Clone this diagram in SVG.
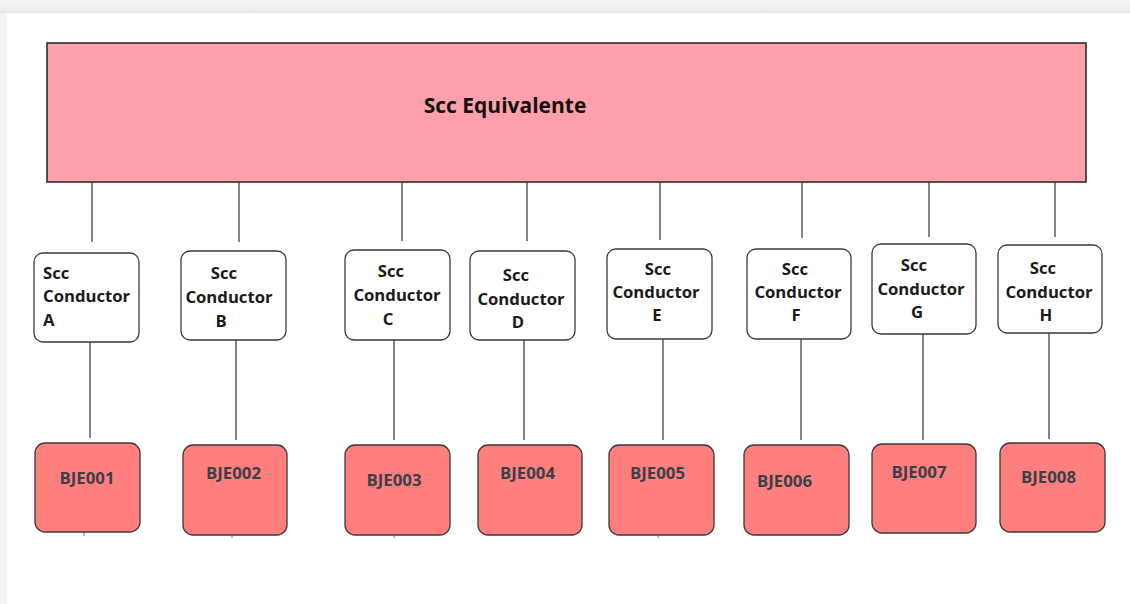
<svg xmlns="http://www.w3.org/2000/svg" width="1130" height="604" viewBox="0 0 1130 604">
  <defs>
    <linearGradient id="edgeTop" x1="0" y1="0" x2="0" y2="1">
      <stop offset="0" stop-color="#f4f4f4"/>
      <stop offset="0.8" stop-color="#eeeeee"/>
      <stop offset="1" stop-color="#e4e4e4"/>
    </linearGradient>
    <linearGradient id="edgeLeft" x1="0" y1="0" x2="1" y2="0">
      <stop offset="0" stop-color="#f4f4f4"/>
      <stop offset="1" stop-color="#ececec"/>
    </linearGradient>
  </defs>
  <style>
    .main { fill: #ffa0ac; stroke: #2e2e2e; stroke-width: 1.6; }
    .cond { fill: #ffffff; stroke: #3a3a3a; stroke-width: 1.3; }
    .bje  { fill: #ff7f7f; stroke: #3a3a3a; stroke-width: 1.3; }
    .wire { stroke: #444444; stroke-width: 1.3; fill: none; }
    .tick { stroke: #777777; stroke-width: 1; fill: none; }
    text { font-family: "Open Sans", "Liberation Sans", sans-serif; font-weight: 700; }
    .title { font-size: 21px; fill: #111111; }
    .lbl { font-size: 16.7px; fill: #1a1a1a; }
    .code { font-size: 16.8px; fill: #3c3f48; }
    .mid { text-anchor: middle; }
  </style>

  <!-- page frame -->
  <rect x="0" y="0" width="1130" height="604" fill="url(#edgeLeft)"/>
  <rect x="0" y="0" width="1130" height="13" fill="url(#edgeTop)"/>
  <rect x="7" y="13" width="1123" height="591" fill="#ffffff"/>

  <!-- root node -->
  <g id="scc-equivalente">
    <rect class="main" x="47" y="43" width="1039" height="139"/>
    <text class="title mid" x="505" y="113">Scc Equivalente</text>
  </g>

  <!-- connectors -->
  <g id="connectors">
    <line class="wire" x1="92" y1="182" x2="92" y2="242"/>
    <line class="wire" x1="239" y1="182" x2="239" y2="242"/>
    <line class="wire" x1="402" y1="182" x2="402" y2="241"/>
    <line class="wire" x1="527" y1="182" x2="527" y2="241"/>
    <line class="wire" x1="660" y1="182" x2="660" y2="240"/>
    <line class="wire" x1="802" y1="182" x2="802" y2="238"/>
    <line class="wire" x1="929" y1="182" x2="929" y2="237"/>
    <line class="wire" x1="1055" y1="182" x2="1055" y2="237"/>

    <line class="wire" x1="90" y1="342" x2="90" y2="438"/>
    <line class="wire" x1="236" y1="340" x2="236" y2="440"/>
    <line class="wire" x1="394" y1="340" x2="394" y2="440"/>
    <line class="wire" x1="524" y1="340" x2="524" y2="440"/>
    <line class="wire" x1="663" y1="339" x2="663" y2="440"/>
    <line class="wire" x1="801" y1="339" x2="801" y2="440"/>
    <line class="wire" x1="923" y1="334" x2="923" y2="440"/>
    <line class="wire" x1="1049" y1="333" x2="1049" y2="439"/>

    <line class="tick" x1="84" y1="532" x2="84" y2="536"/>
    <line class="tick" x1="232" y1="535" x2="232" y2="538"/>
    <line class="tick" x1="394" y1="535" x2="394" y2="538"/>
    <line class="tick" x1="658" y1="535" x2="658" y2="538"/>
  </g>

  <!-- conductor nodes -->
  <g id="conductor-a">
    <rect class="cond" x="34" y="253" width="105" height="89" rx="9"/>
    <text class="lbl" x="43" y="279">Scc</text>
    <text class="lbl" x="43" y="302">Conductor</text>
    <text class="lbl" x="43" y="326">A</text>
  </g>
  <g id="conductor-b">
    <rect class="cond" x="181" y="251" width="105" height="89" rx="9"/>
    <text class="lbl mid" x="224" y="279">Scc</text>
    <text class="lbl mid" x="229" y="303">Conductor</text>
    <text class="lbl mid" x="221" y="327">B</text>
  </g>
  <g id="conductor-c">
    <rect class="cond" x="345" y="250" width="105" height="90" rx="9"/>
    <text class="lbl mid" x="391" y="277">Scc</text>
    <text class="lbl mid" x="397" y="301">Conductor</text>
    <text class="lbl mid" x="388" y="325">C</text>
  </g>
  <g id="conductor-d">
    <rect class="cond" x="470" y="251" width="105" height="89" rx="9"/>
    <text class="lbl mid" x="516" y="281">Scc</text>
    <text class="lbl mid" x="521" y="305">Conductor</text>
    <text class="lbl mid" x="518" y="328">D</text>
  </g>
  <g id="conductor-e">
    <rect class="cond" x="607" y="249" width="105" height="90" rx="9"/>
    <text class="lbl mid" x="658" y="275">Scc</text>
    <text class="lbl mid" x="656" y="298">Conductor</text>
    <text class="lbl mid" x="657" y="321">E</text>
  </g>
  <g id="conductor-f">
    <rect class="cond" x="747" y="249" width="104" height="90" rx="9"/>
    <text class="lbl mid" x="795" y="275">Scc</text>
    <text class="lbl mid" x="798" y="298">Conductor</text>
    <text class="lbl mid" x="796" y="321">F</text>
  </g>
  <g id="conductor-g">
    <rect class="cond" x="872" y="244" width="104" height="90" rx="9"/>
    <text class="lbl mid" x="914" y="271">Scc</text>
    <text class="lbl mid" x="921" y="295">Conductor</text>
    <text class="lbl mid" x="917" y="318">G</text>
  </g>
  <g id="conductor-h">
    <rect class="cond" x="998" y="245" width="104" height="88" rx="9"/>
    <text class="lbl mid" x="1043" y="274">Scc</text>
    <text class="lbl mid" x="1049" y="298">Conductor</text>
    <text class="lbl mid" x="1046" y="321">H</text>
  </g>

  <!-- BJE nodes -->
  <g id="bje001">
    <rect class="bje" x="35" y="443" width="105" height="89" rx="10"/>
    <text class="code mid" x="87" y="484">BJE001</text>
  </g>
  <g id="bje002">
    <rect class="bje" x="183" y="445" width="104" height="90" rx="10"/>
    <text class="code mid" x="233.5" y="479">BJE002</text>
  </g>
  <g id="bje003">
    <rect class="bje" x="345" y="445" width="105" height="90" rx="10"/>
    <text class="code mid" x="394" y="486">BJE003</text>
  </g>
  <g id="bje004">
    <rect class="bje" x="478" y="445" width="104" height="90" rx="10"/>
    <text class="code mid" x="527.5" y="479">BJE004</text>
  </g>
  <g id="bje005">
    <rect class="bje" x="609" y="445" width="105" height="90" rx="10"/>
    <text class="code mid" x="657.5" y="479">BJE005</text>
  </g>
  <g id="bje006">
    <rect class="bje" x="744" y="445" width="105" height="90" rx="10"/>
    <text class="code mid" x="784.5" y="487">BJE006</text>
  </g>
  <g id="bje007">
    <rect class="bje" x="872" y="444" width="104" height="89" rx="10"/>
    <text class="code mid" x="919" y="478">BJE007</text>
  </g>
  <g id="bje008">
    <rect class="bje" x="1000" y="443" width="105" height="89" rx="10"/>
    <text class="code mid" x="1048.5" y="483">BJE008</text>
  </g>
</svg>
